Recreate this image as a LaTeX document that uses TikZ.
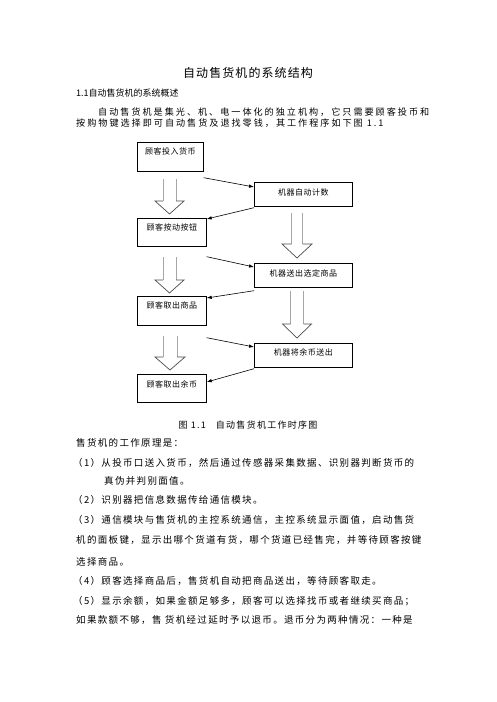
\documentclass[tikz,border=0pt]{standalone}
\usepackage{fontspec}
\setmainfont{Noto Sans CJK SC}
\newfontfamily\titlefont[LetterSpace=9]{Noto Sans CJK SC}
\newfontfamily\parafont[LetterSpace=22]{Noto Sans CJK SC}
\newfontfamily\bodyfont[LetterSpace=14]{Noto Sans CJK SC}
\newfontfamily\capfont[LetterSpace=14]{Noto Sans CJK SC}
\newfontfamily\boxfont[LetterSpace=6]{Noto Sans CJK SC}
\usetikzlibrary{arrows.meta}
\tikzset{
  lbox/.style={draw, line width=0.7pt, anchor=north west, minimum width=69pt, inner ysep=0pt,
    text height=12.5pt, text depth=16.5pt, font=\boxfont\fontsize{8}{9}\selectfont},
  rbox/.style={draw, line width=0.7pt, anchor=north west, minimum width=98pt, inner ysep=0pt,
    text height=12.8pt, text depth=11.2pt, font=\boxfont\fontsize{8}{9}\selectfont},
  link/.style={-{Latex[length=5pt,width=3.5pt]}, line width=0.6pt},
  shaft/.style={gray!70, line width=0.8pt},
  head/.style={black!70, line width=0.7pt},
  txt/.style={anchor=base west, inner sep=0pt, font=\bodyfont\fontsize{9.5}{11}\selectfont},
  ptxt/.style={anchor=base west, inner sep=0pt, font=\parafont\fontsize{9.1}{11}\selectfont}
}
\begin{document}
\begin{tikzpicture}[x=1pt,y=-1pt]
\useasboundingbox (0,0) rectangle (496,702);
% heading and text above the chart
\node[anchor=base, inner sep=0pt, font=\titlefont\fontsize{12}{14}\selectfont] (t1) at (248,77.5) {自动售货机的系统结构};
\node[anchor=base west, inner sep=0pt, font=\fontsize{9}{11}\selectfont] (t2) at (76,96.5) {1.1自动售货机的系统概述};
\node[ptxt] (t3) at (98,115) {自动售货机是集光、机、电一体化的独立机构，它只需要顾客投币和};
\node[ptxt] (t4) at (76,126) {按购物键选择即可自动售货及退找零钱，其工作程序如下图 1.1};
% boxes
\node[lbox, minimum width=66pt] (v1) at (137,142) {顾客投入货币};
\node[rbox] (v2) at (254,182) {机器自动计数};
\node[lbox, text height=11.8pt, text depth=16.2pt] (v3) at (137,218) {顾客按动按钮};
\node[rbox] (v4) at (254,263) {机器送出选定商品};
\node[lbox] (v5) at (137,296) {顾客取出商品};
\node[rbox, text height=12pt, text depth=12pt] (v6) at (254,343) {机器将余币送出};
\node[lbox, text height=12.8pt, text depth=15.2pt] (v7) at (137,374) {顾客取出余币};
% thin arrows
\draw[link] ([yshift=-6pt]v1.south east) -- ([yshift=-5pt]v2.north west);
\draw[link] ([yshift=-1pt]v2.south west) -- ([yshift=-1pt]v3.north east);
\draw[link] ([yshift=-10pt]v3.south east) -- ([yshift=-4pt]v4.north west);
\draw[link] ([yshift=-3pt]v4.south west) -- ([yshift=-2pt]v5.north east);
\draw[link] ([yshift=-12pt]v5.south east) -- ([yshift=-4pt]v6.north west);
\draw[link] ([yshift=-1pt]v6.south west) -- ([yshift=-8pt]v7.north east);
% hollow arrows
\foreach \xc/\ys/\yh/\yt/\sw/\hw in {169.5/179/201/214/6.5/14.5, 169.5/257/280/293/6.5/14.5,
    170/336/357/370/7/15, 297/213/244/258/5.5/15, 297/291/324/338/6.5/14.5}
{
  \draw[shaft] (\xc-\sw,\ys) -- (\xc-\sw,\yh) (\xc+\sw,\ys) -- (\xc+\sw,\yh);
  \draw[head] (\xc-\sw,\yh) -- (\xc-\hw,\yh) -- (\xc,\yt) -- (\xc+\hw,\yh) -- (\xc+\sw,\yh);
}
% caption and text below the chart
\node[anchor=base, inner sep=0pt, font=\capfont\fontsize{9}{11}\selectfont] (cap) at (248,428.4) {图 1.1\hspace{10pt}自动售货机工作时序图};
\node[txt] (t5) at (76,446.6) {售货机的工作原理是：};
\node[txt] (t6) at (73,466.6) {（1）从投币口送入货币，然后通过传感器采集数据、识别器判断货币的};
\node[txt] (t7) at (104,484.6) {真伪并判别面值。};
\node[txt] (t8) at (73,503.6) {（2）识别器把信息数据传给通信模块。};
\node[txt] (t9) at (73,523.6) {（3）通信模块与售货机的主控系统通信，主控系统显示面值，启动售货};
\node[txt] (t10) at (76,543.6) {机的面板键，显示出哪个货道有货，哪个货道已经售完，并等待顾客按键};
\node[txt] (t11) at (76,565.6) {选择商品。};
\node[txt] (t12) at (73,584.6) {（4）顾客选择商品后，售货机自动把商品送出，等待顾客取走。};
\node[txt] (t13) at (73,604.6) {（5）显示余额，如果金额足够多，顾客可以选择找币或者继续买商品；};
\node[txt] (t14) at (76,623.6) {如果款额不够，售 货机经过延时予以退币。退币分为两种情况：一种是};
\end{tikzpicture}
\end{document}
